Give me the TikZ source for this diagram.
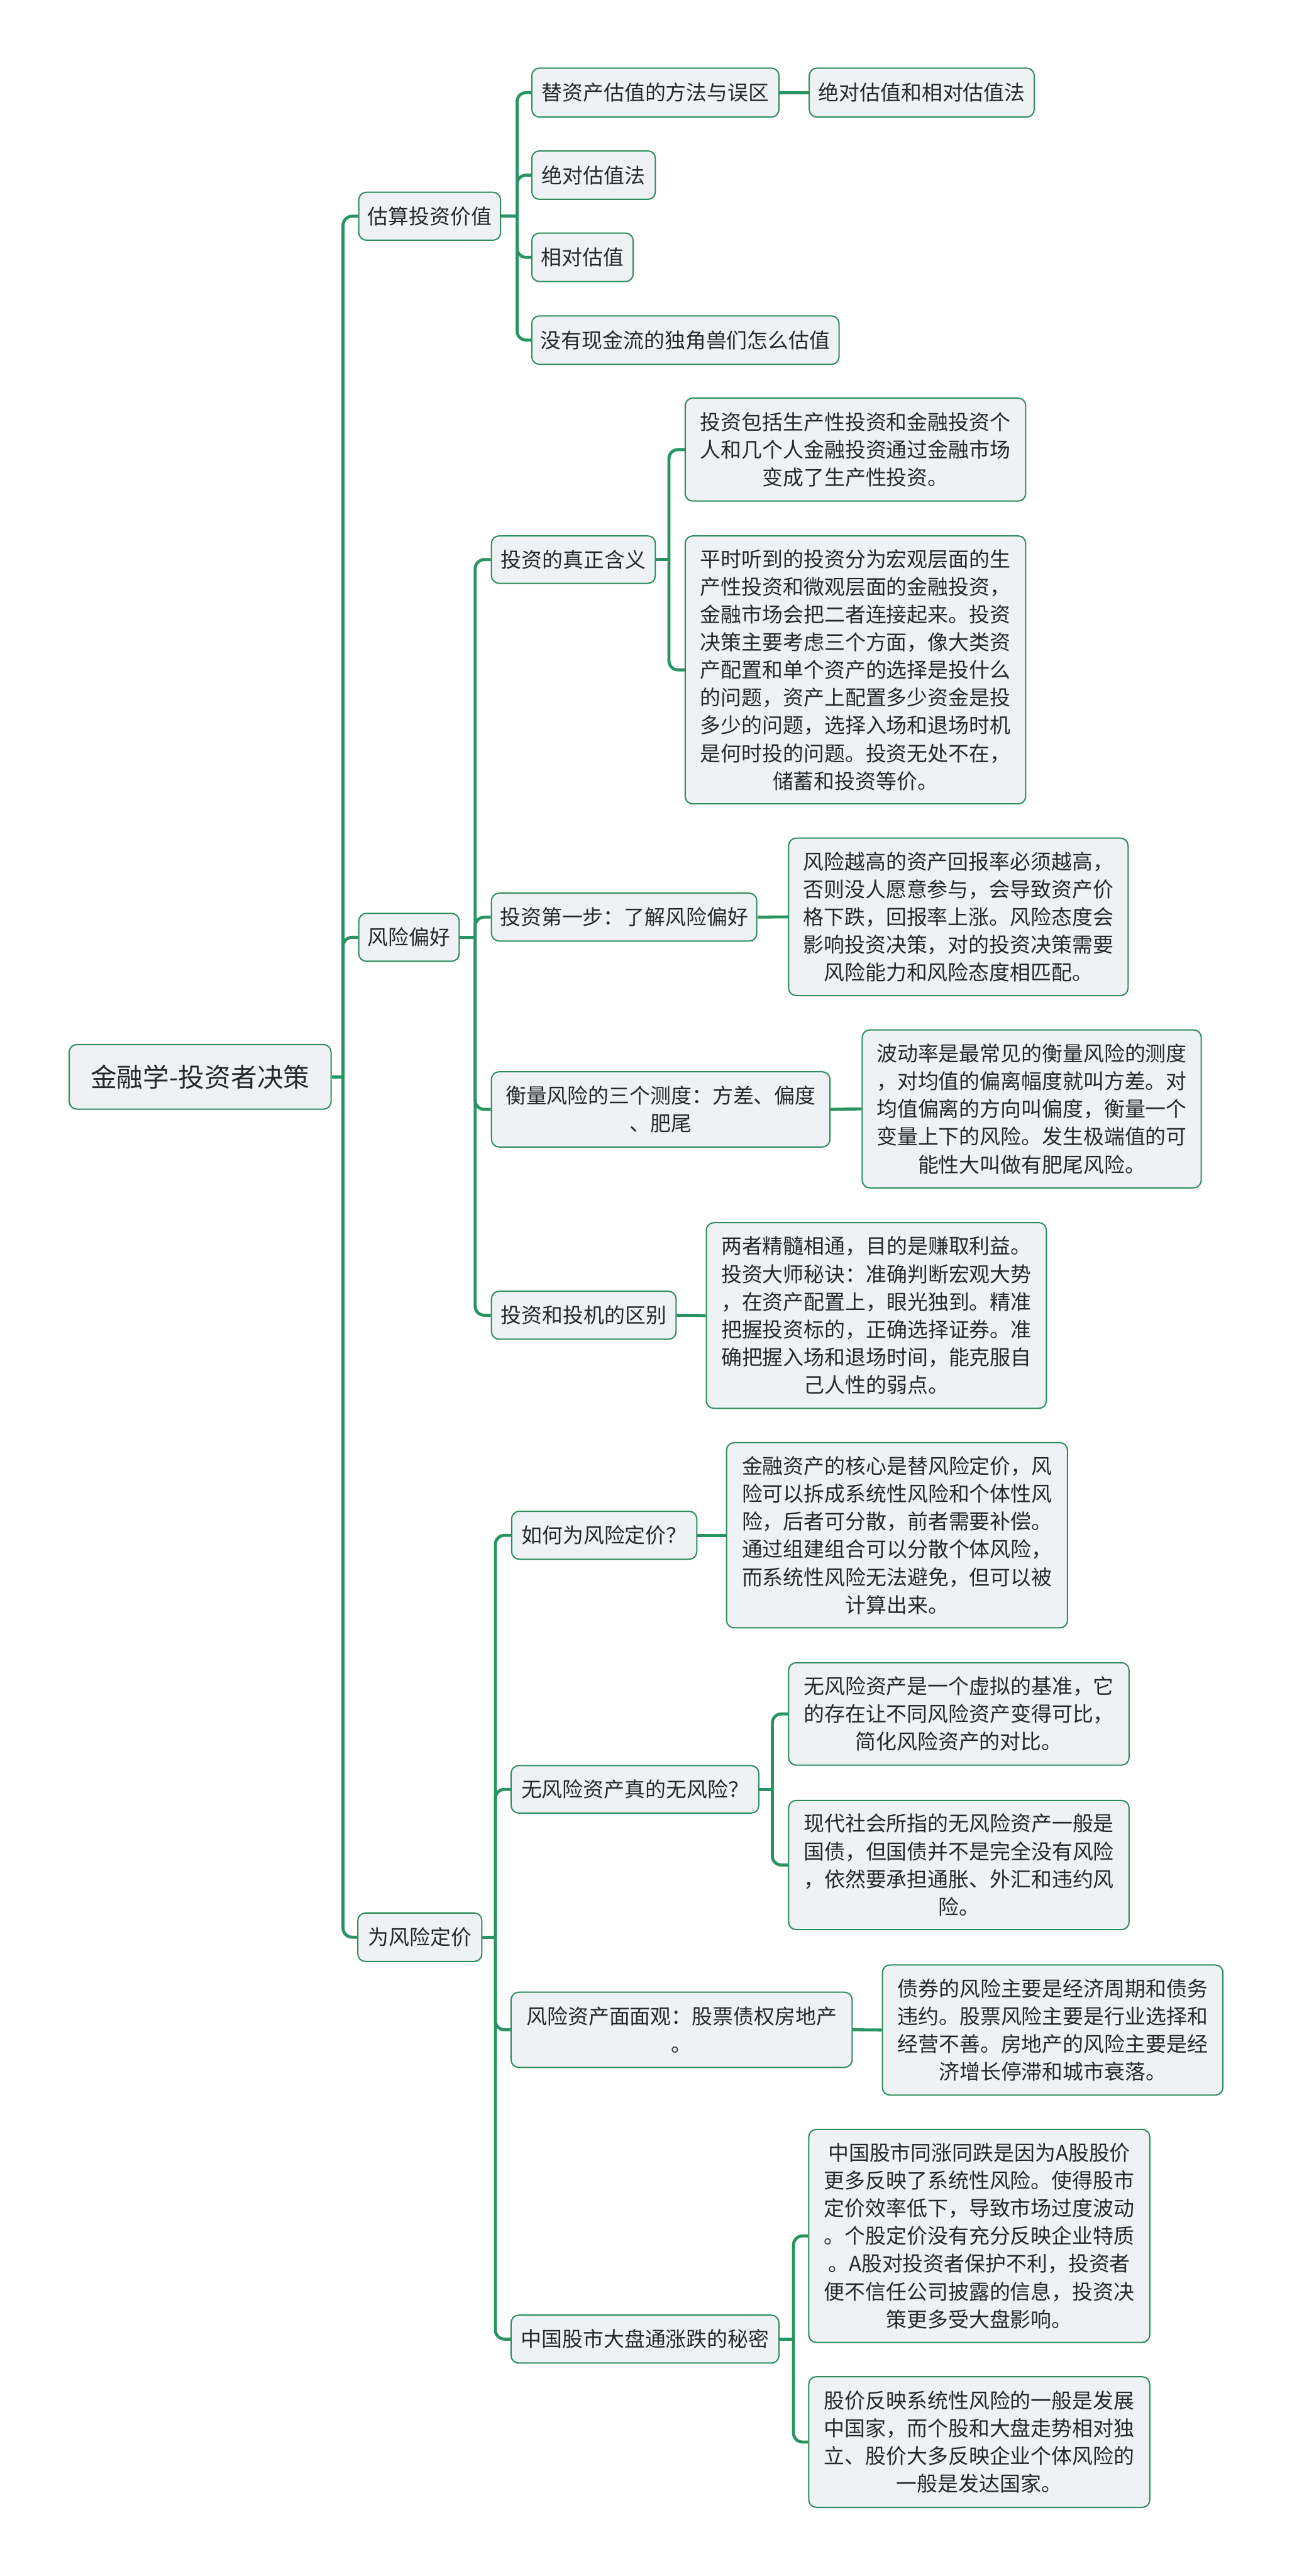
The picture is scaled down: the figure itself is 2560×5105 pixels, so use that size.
\documentclass[tikz,border=0pt]{standalone}
\usepackage{fontspec}
\newfontfamily\cjk{Noto Sans CJK SC}
\definecolor{linegreen}{RGB}{40,148,98}
\definecolor{bordergreen}{RGB}{44,140,92}
\definecolor{boxfill}{RGB}{238,242,245}
\definecolor{textgray}{RGB}{40,40,40}
\tikzset{
  box/.style={draw=bordergreen, line width=2.5pt, fill=boxfill, rounded corners=15pt,
    text=textgray, font=\cjk\fontsize{41}{55}\selectfont, align=center,
    inner sep=0pt, anchor=west},
  conn/.style={draw=linegreen, line width=6pt, rounded corners=18pt},
}
\begin{document}
\begin{tikzpicture}[x=1pt,y=-1pt]
\fill[white] (0,0) rectangle (2560,5105);
\useasboundingbox (0,0) rectangle (2560,5105);

% root
\node[box, minimum width=519pt, minimum height=128pt, font=\cjk\fontsize{52}{62}\selectfont] (R) at (136,2134) {金融学-投资者决策};

% level 1
\node[box, minimum width=281pt, minimum height=95pt] (A) at (710,428.5) {估算投资价值};
\node[box, minimum width=199pt, minimum height=95pt] (B) at (710,1857.5) {风险偏好};
\node[box, minimum width=246pt, minimum height=96pt] (C) at (708,3839) {为风险定价};

% A children
\node[box, minimum width=490pt, minimum height=97pt] (A1) at (1053,183.5) {替资产估值的方法与误区};
\node[box, minimum width=446pt, minimum height=97pt] (A1a) at (1603,183.5) {绝对估值和相对估值法};
\node[box, minimum width=245pt, minimum height=96pt] (A2) at (1053,347) {绝对估值法};
\node[box, minimum width=201pt, minimum height=96pt] (A3) at (1053,510) {相对估值};
\node[box, minimum width=609pt, minimum height=96pt] (A4) at (1053,674) {没有现金流的独角兽们怎么估值};

% B children
\node[box, minimum width=325pt, minimum height=94pt] (B1) at (973,1109) {投资的真正含义};
\node[box, minimum width=675pt, minimum height=204pt] (B1a) at (1357,891) {投资包括生产性投资和金融投资个\\人和几个人金融投资通过金融市场\\变成了生产性投资。};
\node[box, minimum width=675pt, minimum height=531pt] (B1b) at (1357,1327.5) {平时听到的投资分为宏观层面的生\\产性投资和微观层面的金融投资，\\金融市场会把二者连接起来。投资\\决策主要考虑三个方面，像大类资\\产配置和单个资产的选择是投什么\\的问题，资产上配置多少资金是投\\多少的问题，选择入场和退场时机\\是何时投的问题。投资无处不在，\\储蓄和投资等价。};
\node[box, minimum width=526pt, minimum height=95pt] (B2) at (973,1817.5) {投资第一步：了解风险偏好};
\node[box, minimum width=673pt, minimum height=312pt] (B2a) at (1562,1817) {风险越高的资产回报率必须越高，\\否则没人愿意参与，会导致资产价\\格下跌，回报率上涨。风险态度会\\影响投资决策，对的投资决策需要\\风险能力和风险态度相匹配。};
\node[box, minimum width=671pt, minimum height=149pt] (B3) at (973,2198.5) {衡量风险的三个测度：方差、偏度\\、肥尾};
\node[box, minimum width=672pt, minimum height=313pt] (B3a) at (1708,2197.5) {波动率是最常见的衡量风险的测度\\，对均值的偏离幅度就叫方差。对\\均值偏离的方向叫偏度，衡量一个\\变量上下的风险。发生极端值的可\\能性大叫做有肥尾风险。};
\node[box, minimum width=366pt, minimum height=95pt] (B4) at (973,2606.5) {投资和投机的区别};
\node[box, minimum width=674pt, minimum height=368pt] (B4a) at (1399,2607) {两者精髓相通，目的是赚取利益。\\投资大师秘诀：准确判断宏观大势\\，在资产配置上，眼光独到。精准\\把握投资标的，正确选择证券。准\\确把握入场和退场时间，能克服自\\己人性的弱点。};

% C children
\node[box, minimum width=367pt, minimum height=95pt] (C1) at (1013,3042.5) {如何为风险定价？};
\node[box, minimum width=676pt, minimum height=367pt] (C1a) at (1439,3042.5) {金融资产的核心是替风险定价，风\\险可以拆成系统性风险和个体性风\\险，后者可分散，前者需要补偿。\\通过组建组合可以分散个体风险，\\而系统性风险无法避免，但可以被\\计算出来。};
\node[box, minimum width=491pt, minimum height=94pt] (C2) at (1012,3546) {无风险资产真的无风险？};
\node[box, minimum width=675pt, minimum height=203pt] (C2a) at (1562,3396.5) {无风险资产是一个虚拟的基准，它\\的存在让不同风险资产变得可比，\\简化风险资产的对比。};
\node[box, minimum width=675pt, minimum height=256pt] (C2b) at (1562,3696) {现代社会所指的无风险资产一般是\\国债，但国债并不是完全没有风险\\，依然要承担通胀、外汇和违约风\\险。};
\node[box, minimum width=676pt, minimum height=149pt] (C3) at (1012,4022.5) {风险资产面面观：股票债权房地产\\。};
\node[box, minimum width=675pt, minimum height=258pt] (C3a) at (1748,4023) {债券的风险主要是经济周期和债务\\违约。股票风险主要是行业选择和\\经营不善。房地产的风险主要是经\\济增长停滞和城市衰落。};
\node[box, minimum width=531pt, minimum height=95pt] (C4) at (1012,4635.5) {中国股市大盘通涨跌的秘密};
\node[box, minimum width=676pt, minimum height=422pt] (C4a) at (1602,4431) {中国股市同涨同跌是因为A股股价\\更多反映了系统性风险。使得股市\\定价效率低下，导致市场过度波动\\。个股定价没有充分反映企业特质\\。A股对投资者保护不利，投资者\\便不信任公司披露的信息，投资决\\策更多受大盘影响。};
\node[box, minimum width=676pt, minimum height=259pt] (C4b) at (1602,4839.5) {股价反映系统性风险的一般是发展\\中国家，而个股和大盘走势相对独\\立、股价大多反映企业个体风险的\\一般是发达国家。};

% junctions
\coordinate (j0) at (680,2134);
\coordinate (jA) at (1025,428.5);
\coordinate (jB) at (942,1857.5);
\coordinate (jB1) at (1326,1109);
\coordinate (jC) at (982,3839);
\coordinate (jC2) at (1531,3546);
\coordinate (jC4) at (1573,4635.5);

% connectors
\draw[conn] (R.east) -- (j0);
\draw[conn] (j0) |- (A.west);
\draw[conn] (j0) |- (B.west);
\draw[conn] (j0) |- (C.west);

\draw[conn] (A.east) -- (jA);
\draw[conn] (jA) |- (A1.west);
\draw[conn] (jA) |- (A2.west);
\draw[conn] (jA) |- (A3.west);
\draw[conn] (jA) |- (A4.west);
\draw[conn] (A1.east) -- (A1a.west);

\draw[conn] (B.east) -- (jB);
\draw[conn] (jB) |- (B1.west);
\draw[conn] (jB) |- (B2.west);
\draw[conn] (jB) |- (B3.west);
\draw[conn] (jB) |- (B4.west);
\draw[conn] (B1.east) -- (jB1);
\draw[conn] (jB1) |- (B1a.west);
\draw[conn] (jB1) |- (B1b.west);
\draw[conn] (B2.east) -- (B2a.west);
\draw[conn] (B3.east) -- (B3a.west);
\draw[conn] (B4.east) -- (B4a.west);

\draw[conn] (C.east) -- (jC);
\draw[conn] (jC) |- (C1.west);
\draw[conn] (jC) |- (C2.west);
\draw[conn] (jC) |- (C3.west);
\draw[conn] (jC) |- (C4.west);
\draw[conn] (C1.east) -- (C1a.west);
\draw[conn] (C2.east) -- (jC2);
\draw[conn] (jC2) |- (C2a.west);
\draw[conn] (jC2) |- (C2b.west);
\draw[conn] (C3.east) -- (C3a.west);
\draw[conn] (C4.east) -- (jC4);
\draw[conn] (jC4) |- (C4a.west);
\draw[conn] (jC4) |- (C4b.west);
\end{tikzpicture}
\end{document}
